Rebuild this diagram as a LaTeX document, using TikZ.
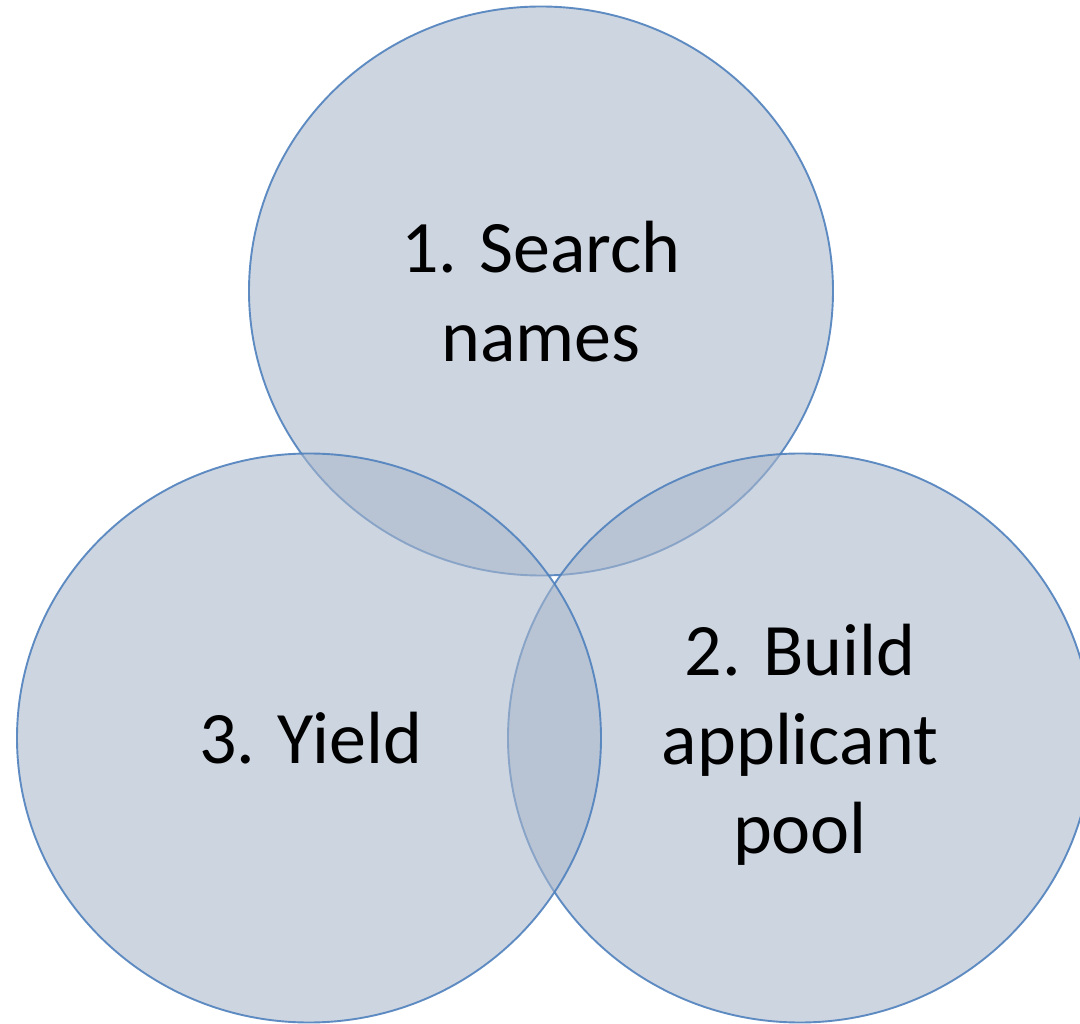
\documentclass[tikz,border=0pt]{standalone}
\usepackage{fontspec}
\setmainfont{Carlito}
\usetikzlibrary{shapes.geometric}
\definecolor{vennfill}{RGB}{169,183,203}
\definecolor{vennline}{RGB}{79,129,189}
\begin{document}
\begin{tikzpicture}[x=1pt,y=-1pt,
  venn/.style={ellipse, inner sep=0pt, minimum width=584pt, minimum height=569pt,
    fill=vennfill, fill opacity=0.58, draw=vennline, draw opacity=0.9, line width=1.9pt},
  label/.style={align=center, text=black, font=\fontsize{74}{89}\selectfont}]
  \useasboundingbox (0,0) rectangle (1080,1024);
  % the three overlapping circles
  \node[venn] (search) at (541,291) {};
  \node[venn] (build)  at (800,738) {};
  \node[venn] (yield)  at (309,738) {};
  % captions
  \node[label] (tsearch) at (541,292) {1. Search\\names};
  \node[label] (tbuild)  at (800,745) {2. Build\\applicant\\pool};
  \node[label, anchor=base] (tyield) at (311,763) {3. Yield};
\end{tikzpicture}
\end{document}
